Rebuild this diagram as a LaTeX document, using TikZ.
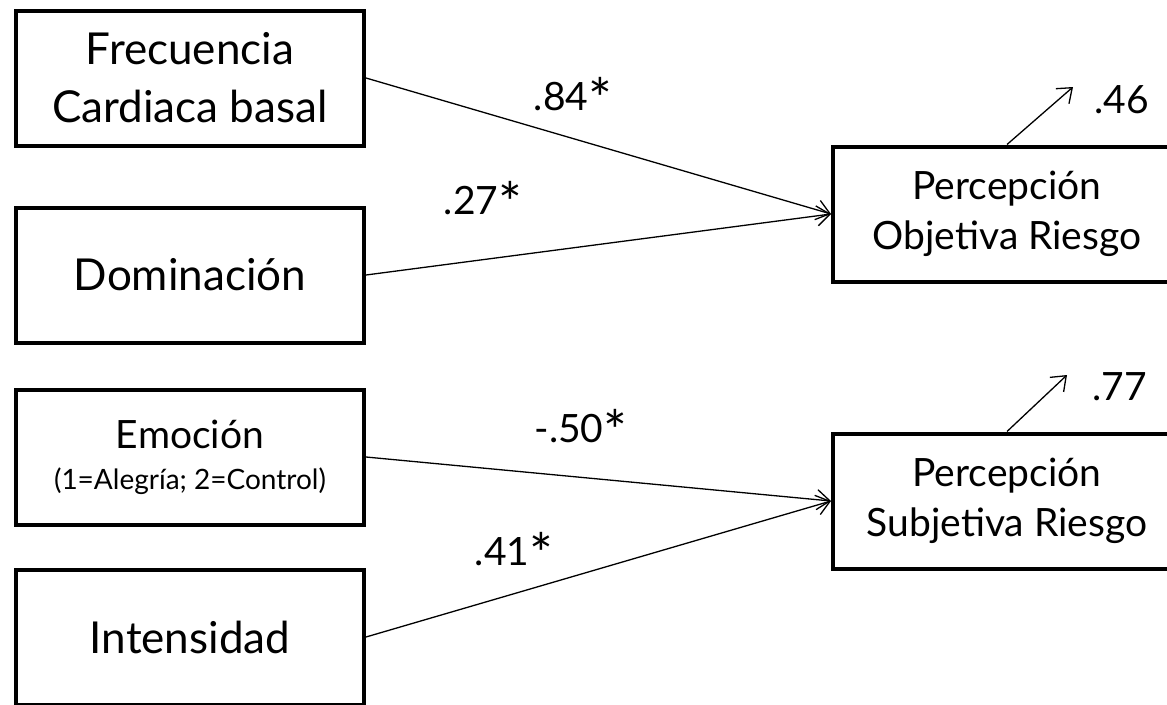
\documentclass[tikz,border=0pt]{standalone}
\usepackage{fontspec}
\setmainfont{Lato}
\usetikzlibrary{arrows.meta}
\newcommand\sig{\raisebox{-9pt}{\fontsize{56}{56}\selectfont *}}

\begin{document}
\begin{tikzpicture}[
  x=1pt,y=-1pt,
  >={Straight Barb[length=13pt,width=20pt]},
  var/.style={
  	draw,
  	line width=4pt,
  	minimum width=348pt,
  	minimum height=135pt,
  	inner sep=0pt,
  	align=center,
  	font=\fontsize{44}{58}\selectfont
  },
  outcome/.style={
  	var,
  	font=\fontsize{39}{50}\selectfont
  },
  path/.style={
  	->,
  	line width=1.3pt
  },
  coef/.style={
  	inner sep=0pt,
  	font=\fontsize{39}{44}\selectfont
  }
  ]
  \useasboundingbox (0,0) rectangle (1167,704);

  \node[var] (frec) at (190,78) {Frecuencia\\Cardiaca basal};
  \node[var] (dom) at (190,275) {Dominación};
  \node[var,font=\fontsize{39}{50}\selectfont] (emo) at (190,457)
  	{Emoción\\[-9pt]{\fontsize{28}{32}\selectfont (1=Alegría; 2=Control)}};
  \node[var] (int) at (190,637) {Intensidad};

  \node[outcome] (obj) at (1007,214) {Percepción\\Objetiva Riesgo};
  \node[outcome] (subj) at (1007,501) {Percepción\\Subjetiva Riesgo};

  \coordinate (eobj) at (1073,87);
  \coordinate (esubj) at (1067,375);

  \draw[path] (frec.east) -- (obj.west);
  \draw[path] (dom.east) -- (obj.west);
  \draw[path] (emo.east) -- (subj.west);
  \draw[path] (int.east) -- (subj.west);
  \draw[path] (obj.north) -- (eobj);
  \draw[path] (subj.north) -- (esubj);

  \node[coef] (c1) at (573,98) {.84\sig};
  \node[coef] (c2) at (483,202) {.27\sig};
  \node[coef] (c3) at (581,430) {-.50\sig};
  \node[coef] (c4) at (514,553) {.41\sig};
  \node[coef] (r1) at (1122,100) {.46};
  \node[coef] (r2) at (1120,387) {.77};

\end{tikzpicture}
\end{document}
